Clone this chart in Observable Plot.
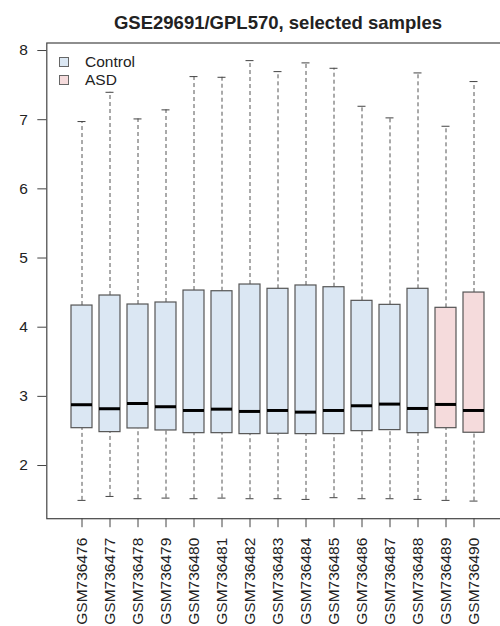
<!DOCTYPE html>
<html>
<head>
<meta charset="utf-8">
<script src="https://cdn.jsdelivr.net/npm/d3@7"></script>
<script src="https://cdn.jsdelivr.net/npm/@observablehq/plot@0.6"></script>
<style>
  html, body { margin: 0; padding: 0; background: white; }
  #wrap { position: relative; width: 500px; height: 626px; overflow: hidden; font-family: "Liberation Sans", Arial, Helvetica, sans-serif; }
  #title { position: relative; height: 34px; }
  #title span { position: absolute; top: 13.5px; left: 278px; transform: translateX(-50%); white-space: nowrap; font-weight: bold; font-size: 18.5px; line-height: 18.5px; color: #222; }
  .leg { position: absolute; left: 59px; height: 18px; display: flex; align-items: center; font-size: 15.5px; line-height: 18px; color: #222; }
  .leg i { display: inline-block; width: 10px; height: 10px; box-sizing: border-box; border: 1px solid #666; margin-right: 16px; }
</style>
</head>
<body>
<div id="wrap">
  <div id="title"><span>GSE29691/GPL570, selected samples</span></div>
  <div id="chart"></div>
  <div id="legend"></div>
</div>
<script>
const samples = ["GSM736476","GSM736477","GSM736478","GSM736479","GSM736480","GSM736481","GSM736482","GSM736483","GSM736484","GSM736485","GSM736486","GSM736487","GSM736488","GSM736489","GSM736490"];
const groups = ["Control","Control","Control","Control","Control","Control","Control","Control","Control","Control","Control","Control","Control","ASD","ASD"];
const lowerWhisker = [1.496,1.553,1.520,1.529,1.520,1.529,1.520,1.520,1.510,1.535,1.520,1.520,1.510,1.496,1.486];
const q1 = [2.540,2.483,2.536,2.507,2.468,2.468,2.454,2.459,2.454,2.454,2.497,2.512,2.468,2.540,2.474];
const median = [2.879,2.821,2.897,2.850,2.796,2.815,2.782,2.796,2.772,2.796,2.864,2.888,2.825,2.883,2.796];
const q3 = [4.313,4.458,4.328,4.357,4.530,4.520,4.617,4.555,4.603,4.578,4.381,4.323,4.555,4.280,4.501];
const upperWhisker = [6.973,7.396,7.011,7.142,7.623,7.613,7.854,7.695,7.821,7.743,7.194,7.026,7.676,6.905,7.551];
const groupNames = ["Control","ASD"];
const groupColors = ["#dbe7f3","#f5dbdc"];
const yTicks = [2,3,4,5,6,7,8];

const data = samples.map((s, i) => ({
  sample: s, group: groups[i], lo: lowerWhisker[i], q1: q1[i], med: median[i], q3: q3[i], hi: upperWhisker[i]
}));

// R-style 4% extension of the data range
const yMin = d3.min(lowerWhisker), yMax = d3.max(upperWhisker);
const ext = (yMax - yMin) * 0.04;

const ink = "#444";
const plot = Plot.plot({
  width: 500,
  height: 592,
  marginLeft: 46.3,
  marginRight: -9.1,
  marginTop: 8.5,
  marginBottom: 107.8,
  style: { fontFamily: "'Liberation Sans', Arial, Helvetica, sans-serif", fontSize: "15.5px", color: "#222", background: "white" },
  x: { type: "band", domain: samples, paddingInner: 0.26, paddingOuter: 0.73, align: 0.5 },
  y: { domain: [yMin - ext, yMax + ext] },
  color: { domain: groupNames, range: groupColors },
  marks: [
    Plot.ruleX(data, { x: "sample", y1: "lo", y2: "q1", stroke: "#555", strokeDasharray: "4,3" }),
    Plot.ruleX(data, { x: "sample", y1: "q3", y2: "hi", stroke: "#555", strokeDasharray: "4,3" }),
    Plot.tickY(data, { x: "sample", y: "lo", stroke: ink, insetLeft: 6.5, insetRight: 6.5 }),
    Plot.tickY(data, { x: "sample", y: "hi", stroke: ink, insetLeft: 6.5, insetRight: 6.5 }),
    Plot.barY(data, { x: "sample", y1: "q1", y2: "q3", fill: "group", stroke: "#555", strokeWidth: 1.2 }),
    Plot.tickY(data, { x: "sample", y: "med", stroke: "#000", strokeWidth: 3 }),
    Plot.frame({ stroke: ink, strokeWidth: 1.2 }),
    Plot.axisY({ ticks: yTicks, tickFormat: d3.format("d"), tickSize: 9, tickPadding: 10, stroke: ink, label: null }),
    Plot.axisX({ tickRotate: -90, tickSize: 9, tickPadding: 10, stroke: ink, label: null })
  ]
});
document.getElementById("chart").appendChild(plot);

const legend = document.getElementById("legend");
const legendTops = [52.5, 70.7];
groupNames.forEach((g, i) => {
  const row = document.createElement("div");
  row.className = "leg";
  row.style.top = legendTops[i] + "px";
  const sw = document.createElement("i");
  sw.style.background = groupColors[i];
  row.appendChild(sw);
  row.appendChild(document.createTextNode(g));
  legend.appendChild(row);
});
</script>
</body>
</html>
